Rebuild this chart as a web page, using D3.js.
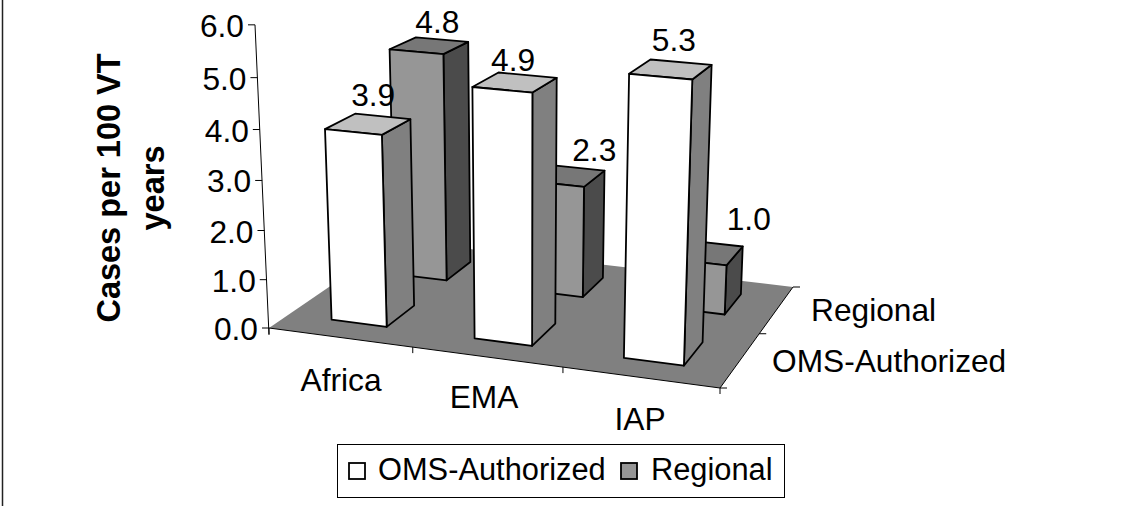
<!DOCTYPE html>
<html><head><meta charset="utf-8">
<style>html,body{margin:0;padding:0;background:#fff}svg{display:block}text{font-family:"Liberation Sans",Arial,sans-serif;fill:#000}</style>
<script src="https://cdn.jsdelivr.net/npm/d3@7"></script></head>
<body><svg id="c" width="1122" height="506"></svg>
<script>
const categories = ["Africa","EMA","IAP"];
const seriesNames = ["OMS-Authorized","Regional"];
const omsValues = [3.9,4.9,5.3];
const regionalValues = [4.8,2.3,1.0];
const valueTicks = [0,1,2,3,4,5,6];

const svg = d3.select("#c");
function squareToQuad(p){
  const [[x0,y0],[x1,y1],[x2,y2],[x3,y3]]=p;
  const dx1=x1-x2,dx2=x3-x2,sx=x0-x1+x2-x3,dy1=y1-y2,dy2=y3-y2,sy=y0-y1+y2-y3;
  const den=dx1*dy2-dx2*dy1;
  const g=(sx*dy2-dx2*sy)/den,h=(dx1*sy-sx*dy1)/den;
  return [x1-x0+g*x1,x3-x0+h*x3,x0,y1-y0+g*y1,y3-y0+h*y3,y0,g,h,1];
}
const H=squareToQuad([[269,328],[720,388],[793,287],[397,240.5]]);
const vp=[524,5850];
const wallTop=[255,25];
const c=(H[2]-wallTop[0]*H[8])/(wallTop[0]-vp[0]);
function proj(u,v,w){
  const d=H[6]*u+H[7]*v+H[8]+c*w;
  return [(H[0]*u+H[1]*v+H[2]+c*vp[0]*w)/d,(H[3]*u+H[4]*v+H[5]+c*vp[1]*w)/d];
}
const yS=d3.scaleLinear().domain([0,6]).range([0,1]);
const uS=d3.scaleBand().domain(categories).range([0,1]);
const vS=d3.scaleBand().domain(seriesNames).range([0,1]);
const gainU=d3.scaleLinear().domain([0,1]).range([0.982,1.042]);
const gainV=d3.scaleLinear().domain([0,1]).range([0,0.03]);
const barU=0.39, barV=0.44;
const FS=31.7;
const poly=pts=>"M"+pts.map(p=>p.map(n=>n.toFixed(1)).join(",")).join("L")+"Z";
// left frame edge
svg.append("line").attr("x1",2.5).attr("x2",2.5).attr("y1",0).attr("y2",506).attr("stroke","#222").attr("stroke-width",1.5);
// wall axis line
const a0=proj(0,0,0),a1=proj(0,0,1);
svg.append("line").attr("x1",a0[0]).attr("y1",a0[1]+7).attr("x2",a1[0]).attr("y2",a1[1]).attr("stroke","#000");
// floor
svg.append("path").attr("d",poly([proj(0,0,0),proj(1,0,0),proj(1,1,0),proj(0,1,0)])).attr("fill","#808080").attr("stroke","none");
svg.append("path").attr("d","M"+proj(0,0,0)+"L"+proj(1,0,0)+"L"+proj(1,1,0)).attr("fill","none").attr("stroke","#000");
// value ticks
valueTicks.forEach(t=>{
  const p=proj(0,0,yS(t));
  svg.append("line").attr("x1",p[0]-7).attr("x2",p[0]).attr("y1",p[1]).attr("y2",p[1]).attr("stroke","#000");
  svg.append("text").attr("x",p[0]-11).attr("y",p[1]+12).attr("text-anchor","end").attr("font-size",FS).text(d3.format(".1f")(t));
});
d3.range(0,4).forEach(i=>{
  const p=proj(i/3,0,0);
  svg.append("line").attr("x1",p[0]).attr("x2",p[0]).attr("y1",p[1]).attr("y2",p[1]+6).attr("stroke","#000");
});
[0,0.5,1].forEach(v=>{
  const p=proj(1,v,0);
  svg.append("line").attr("x1",p[0]).attr("x2",p[0]+7).attr("y1",p[1]).attr("y2",p[1]).attr("stroke","#000");
});
const catLabelPos=[[341,391],[484,408],[640,430]];
categories.forEach((d,i)=>svg.append("text").attr("x",catLabelPos[i][0]).attr("y",catLabelPos[i][1]).attr("text-anchor","middle").attr("font-size",FS).text(d));
svg.append("text").attr("x",811).attr("y",321).attr("font-size",FS).text("Regional");
svg.append("text").attr("x",772).attr("y",372).attr("font-size",FS).text("OMS-Authorized");
svg.append("g").attr("transform","translate(120,188) rotate(-90)").call(g=>{
  g.append("text").attr("text-anchor","middle").attr("font-size",32.5).attr("font-weight","bold").text("Cases per 100 VT");
  g.append("text").attr("y",44).attr("text-anchor","middle").attr("font-size",32.5).attr("font-weight","bold").text("years");
});
const styles={ "OMS-Authorized":{front:"#ffffff",top:"#c0c0c0",side:"#808080"},"Regional":{front:"#969696",top:"#777777",side:"#4b4b4b"}};
const labelOffsets={ "OMS-Authorized":[[5,-18],[-2,-11],[3,-18]],"Regional":[[8,-13],[27,-15],[42,-23]]};
const bars=[];
[[1,regionalValues],[0,omsValues]].forEach(([si,vals])=>vals.forEach((val,i)=>bars.push({si,i,val})));
bars.forEach(b=>{
  const name=seriesNames[b.si],cat=categories[b.i],st=styles[name];
  const u0=uS(cat)+uS.bandwidth()*(1-barU)/2,u1=u0+uS.bandwidth()*barU;
  const v0=vS(name)+vS.bandwidth()*(1-barV)/2,v1=v0+vS.bandwidth()*barV;
  const w=yS(b.val)*(gainU((u0+u1)/2)+gainV((v0+v1)/2));
  const g=svg.append("g").attr("stroke","#000").attr("stroke-width",1.8).attr("stroke-linejoin","round");
  g.append("path").attr("d",poly([proj(u1,v0,0),proj(u1,v1,0),proj(u1,v1,w),proj(u1,v0,w)])).attr("fill",st.side);
  g.append("path").attr("d",poly([proj(u0,v0,w),proj(u1,v0,w),proj(u1,v1,w),proj(u0,v1,w)])).attr("fill",st.top);
  g.append("path").attr("d",poly([proj(u0,v0,0),proj(u1,v0,0),proj(u1,v0,w),proj(u0,v0,w)])).attr("fill",st.front);
  const t=proj((u0+u1)/2,(v0+v1)/2,w);
  const o=labelOffsets[name][b.i];
  b.lx=t[0]+o[0];b.ly=t[1]+o[1];
});
bars.forEach(b=>svg.append("text").attr("x",b.lx).attr("y",b.ly).attr("text-anchor","middle").attr("font-size",FS).text(d3.format(".1f")(b.val)));
// legend
svg.append("rect").attr("x",337.5).attr("y",444.5).attr("width",447).attr("height",53).attr("fill","#fff").attr("stroke","#000");
seriesNames.forEach((n,i)=>{
  svg.append("rect").attr("x",[349,621][i]).attr("y",463).attr("width",16).attr("height",16).attr("fill",styles[n].front).attr("stroke","#000").attr("stroke-width",1.8);
  svg.append("text").attr("x",[378,651][i]).attr("y",480).attr("font-size",30.8).text(n);
});
</script></body></html>
